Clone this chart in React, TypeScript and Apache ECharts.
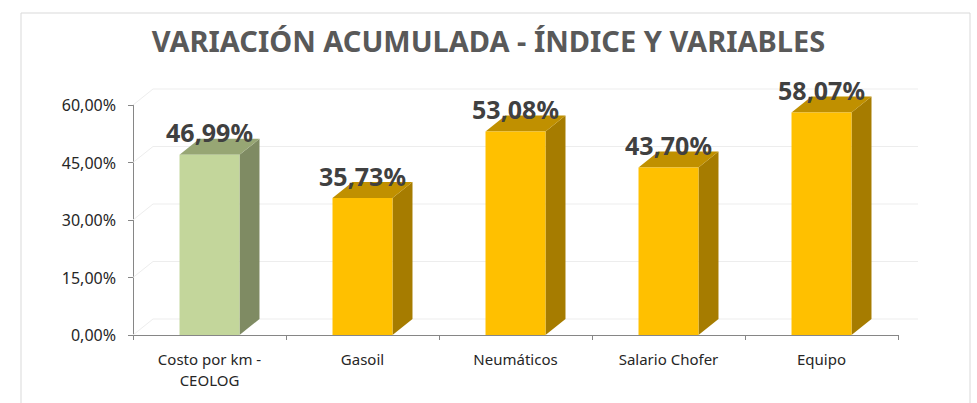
import React, { useEffect, useRef } from "react";
import * as echarts from "echarts";

const categories = ["Costo por km -\nCEOLOG", "Gasoil", "Neumáticos", "Salario Chofer", "Equipo"];
const values = [46.99, 35.73, 53.08, 43.7, 58.07];
const tickValues = [0, 15, 30, 45, 60];
const titleText = "VARIACIÓN ACUMULADA - ÍNDICE Y VARIABLES";

const fmt = (v: number) => v.toFixed(2).replace(".", ",") + "%";

export default function App() {
  const ref = useRef<HTMLDivElement>(null);
  useEffect(() => {
    if (!ref.current) return;
    const chart = echarts.init(ref.current, null, { renderer: "svg" });
    const DX = 20;
    const DY = 16;
    const font = "'Noto Sans', 'Open Sans', sans-serif";
    chart.setOption({
      animation: false,
      backgroundColor: "#ffffff",
      title: {
        text: titleText,
        left: "center",
        top: 21,
        textStyle: { fontFamily: font, fontSize: 29, fontWeight: "bold", color: "#595959" },
      },
      graphic: [
        {
          type: "rect",
          shape: { x: 21, y: 13, width: 949, height: 420 },
          style: { fill: "none", stroke: "#D9D9D9", lineWidth: 1 },
          z: -10,
        },
      ],
      grid: { left: 133, right: 79, top: 105, bottom: 68, containLabel: false },
      xAxis: {
        type: "category",
        data: categories,
        axisLine: { show: true, lineStyle: { color: "#868686", width: 1 } },
        axisTick: { show: true, length: 5, lineStyle: { color: "#868686" } },
        axisLabel: { color: "#262626", fontFamily: font, fontSize: 15, margin: 13, lineHeight: 21 },
      },
      yAxis: {
        type: "value",
        min: 0,
        max: 60,
        interval: 15,
        axisLine: { show: true, lineStyle: { color: "#868686", width: 1 } },
        axisTick: { show: true, length: 5, lineStyle: { color: "#868686" } },
        splitLine: { show: false },
        axisLabel: { color: "#262626", fontFamily: font, fontSize: 16, margin: 17, formatter: (v: number) => fmt(v) },
      },
      series: [
        {
          type: "custom",
          clip: false,
          z: 1,
          data: tickValues.map((t) => [0, t]),
          renderItem: (params: any, api: any) => {
            const cs = params.coordSys;
            const y = api.coord([0, api.value(1)])[1];
            const x0 = cs.x;
            const x1 = cs.x + cs.width;
            return {
              type: "polyline",
              shape: { points: [[x0, y], [x0 + DX, y - DY], [x1 + DX, y - DY]] },
              style: { stroke: "#EDEDED", lineWidth: 1, fill: "none" },
            };
          },
        },
        {
          type: "custom",
          clip: false,
          z: 2,
          data: values.map((v, i) => [i, v]),
          renderItem: (params: any, api: any) => {
            const i = api.value(0);
            const v = api.value(1);
            const base = api.coord([i, 0]);
            const top = api.coord([i, v]);
            const bw = api.size([1, 0])[0] * 0.392;
            const xl = base[0] - bw / 2;
            const xr = base[0] + bw / 2;
            const green = i === 0;
            const front = green ? "#C3D69B" : "#FFC000";
            const side = green ? "#7F8B63" : "#A67C00";
            const topc = green ? "#97A674" : "#C09000";
            return {
              type: "group",
              children: [
                {
                  type: "polygon",
                  shape: { points: [[xr, top[1]], [xr + DX, top[1] - DY], [xr + DX, base[1] - DY], [xr, base[1]]] },
                  style: { fill: side },
                },
                {
                  type: "polygon",
                  shape: { points: [[xl, top[1]], [xl + DX, top[1] - DY], [xr + DX, top[1] - DY], [xr, top[1]]] },
                  style: { fill: topc },
                },
                {
                  type: "rect",
                  shape: { x: xl, y: top[1], width: bw, height: base[1] - top[1] },
                  style: { fill: front },
                },
                {
                  type: "text",
                  x: base[0],
                  y: top[1] - 10,
                  style: {
                    text: fmt(v),
                    fontFamily: font,
                    fontSize: 25,
                    fontWeight: "bold",
                    fill: "#404040",
                    align: "center",
                    verticalAlign: "bottom",
                  },
                },
              ],
            };
          },
        },
      ],
    });
    return () => chart.dispose();
  }, []);
  return <div ref={ref} style={{ position: "fixed", left: 0, top: 0, width: 977, height: 403 }} />;
}
